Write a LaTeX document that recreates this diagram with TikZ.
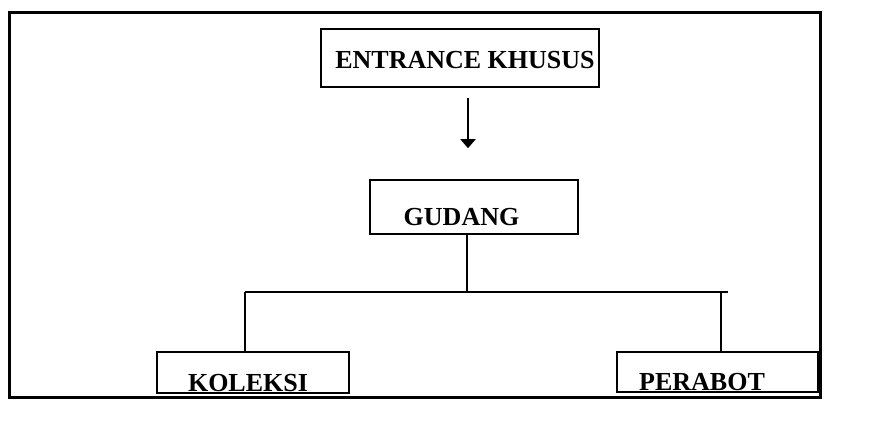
\documentclass[tikz,border=0pt]{standalone}
\usepackage{fontspec}
\setmainfont{Liberation Serif}
\usetikzlibrary{arrows.meta,calc}
\begin{document}
\begin{tikzpicture}[x=1pt,y=-1pt,
  box/.style={draw,line width=2.4pt,inner sep=0pt,minimum width=#1},
  label/.style={anchor=base,inner sep=0pt,font=\fontsize{26}{30}\selectfont\bfseries},
  link/.style={line width=2.6pt},
  flow/.style={line width=2pt,-{Triangle[width=15pt,length=9pt]}}]
  \useasboundingbox (0,0) rectangle (892,437);
  % outer frame
  \draw[line width=3pt] (9,12) rectangle (820,397);
  % boxes
  \node[box=278pt,minimum height=58pt] (entrance) at (460,58) {};
  \node[box=208pt,minimum height=54pt] (gudang) at (474,207) {};
  \node[box=192pt,minimum height=41pt] (koleksi) at (253,372.5) {};
  \node[box=201pt,minimum height=40pt] (perabot) at (717.5,372) {};
  % box titles
  \node[label] (tEntrance) at (465,68) {ENTRANCE KHUSUS};
  \node[label] (tGudang) at (461.5,225) {GUDANG};
  \node[label] (tKoleksi) at (248,391) {KOLEKSI};
  \node[label] (tPerabot) at (702,390) {PERABOT};
  % arrow from entrance to storage
  \draw[flow] ([xshift=8pt,yshift=-10pt]entrance.south) -- ([xshift=8pt,yshift=-60pt]entrance.south);
  % branching connectors
  \coordinate (hub) at (467,292);
  \coordinate (barL) at (245,292);
  \coordinate (barR) at (728,292);
  \coordinate (dropR) at (721,292);
  \draw[link] (gudang.south -| hub) -- (hub);
  \draw[link] (barL) -- (barR);
  \draw[link] (barL) -- (barL |- koleksi.north);
  \draw[link] (dropR) -- (dropR |- perabot.north);
\end{tikzpicture}
\end{document}
